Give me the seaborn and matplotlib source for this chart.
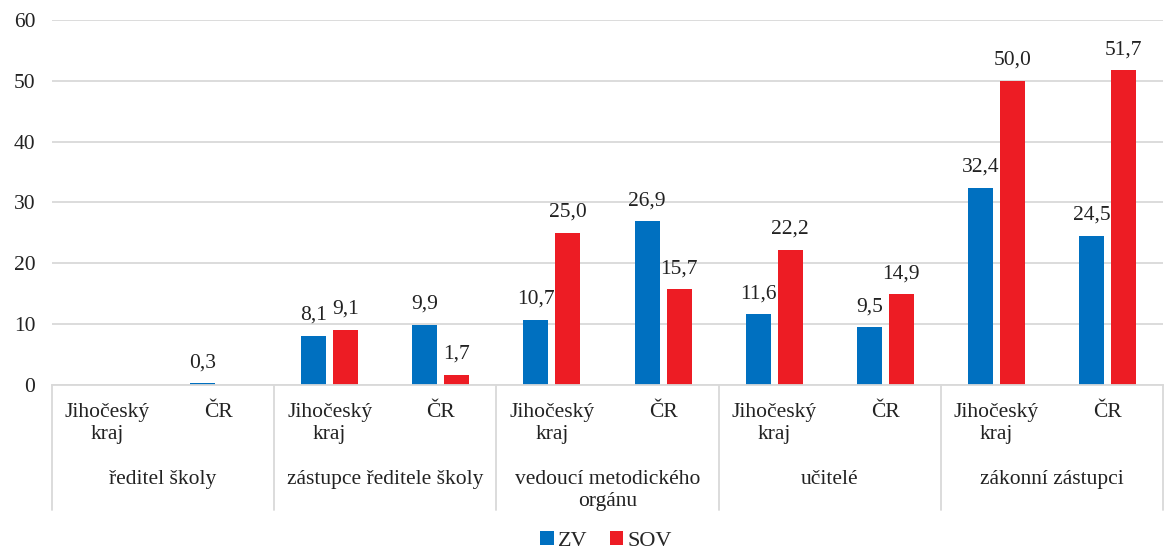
import matplotlib
matplotlib.use("Agg")
import matplotlib.pyplot as plt
import matplotlib.transforms as mtransforms
import numpy as np
import pandas as pd
import seaborn as sns


GROUPS = [
    "ředitel školy",
    "zástupce ředitele školy",
    "vedoucí metodického\norgánu",
    "učitelé",
    "zákonní zástupci",
]
SUBCATS = ["Jihočeský\nkraj", "ČR"]
SERIES = ["ZV", "SOV"]
COLORS = ["#0070C0", "#ED1C24"]

# values per subcategory (group x region), NaN = no bar
ZV = [np.nan, 0.3, 8.1, 9.9, 10.7, 26.9, 11.6, 9.5, 32.4, 24.5]
SOV = [np.nan, np.nan, 9.1, 1.7, 25.0, 15.7, 22.2, 14.9, 50.0, 51.7]
Y_TICKS = [0, 10, 20, 30, 40, 50, 60]


def main():
    sns.set_theme(style="white")
    plt.rcParams["font.serif"] = ["Liberation Serif", "DejaVu Serif"]
    plt.rcParams["font.family"] = "serif"

    keys = [str(i) for i in range(len(ZV))]
    df = pd.DataFrame({
        "key": keys * 2,
        "series": ["ZV"] * len(ZV) + ["SOV"] * len(SOV),
        "value": ZV + SOV,
    })
    # empty cells are drawn as zero-height bars without a label
    df["value"] = df["value"].fillna(0)

    fig = plt.figure(figsize=(11.66, 5.49), dpi=100)
    ax = fig.add_axes([0.0446, 0.2987, 0.9528, 0.6649])

    sns.barplot(
        data=df, x="key", y="value", hue="series", order=keys,
        hue_order=SERIES, palette=COLORS, width=0.576, gap=0.22,
        saturation=1, errorbar=None, ax=ax, legend=True, linewidth=0,
    )

    fs = 15.5
    for cont, vals in zip(ax.containers, [ZV, SOV]):
        labels = ["" if np.isnan(v) else f"{v:.1f}".replace(".", ",") for v in vals]
        ax.bar_label(cont, labels=labels, padding=8, fontsize=fs, color="#222222")

    ax.set_ylim(0, 60)
    ax.set_xlim(-0.5, len(keys) - 0.5)
    ax.set_yticks(Y_TICKS)
    ax.set_yticklabels([str(t) for t in Y_TICKS], fontsize=fs, color="#222222")
    ax.yaxis.grid(True, color="#d9d9d9", linewidth=1.3)
    ax.set_axisbelow(True)
    ax.tick_params(axis="y", length=0, pad=12)
    ax.tick_params(axis="x", length=0, pad=13)
    ax.set_xticks(range(len(keys)))
    ax.set_xticklabels(SUBCATS * len(GROUPS), fontsize=fs, linespacing=1.2,
                       color="#222222")
    ax.set_xlabel("")
    ax.set_ylabel("")
    for s in ["left", "right", "top"]:
        ax.spines[s].set_visible(False)
    ax.spines["bottom"].set_color("#d9d9d9")
    ax.spines["bottom"].set_linewidth(1.3)

    trans = mtransforms.blended_transform_factory(ax.transData, ax.transAxes)
    for i in range(len(GROUPS) + 1):
        xs = 2 * i - 0.5
        ax.plot([xs, xs], [0, -0.342], transform=trans, color="#d9d9d9",
                linewidth=1.3, clip_on=False)
    for i, g in enumerate(GROUPS):
        ax.text(2 * i + 0.5, -0.232, g, transform=trans, ha="center", va="top",
                fontsize=fs, linespacing=1.2, color="#222222")

    handles, _ = ax.get_legend_handles_labels()
    ax.legend(handles, SERIES, loc="lower center", bbox_to_anchor=(0.52, -0.02),
              bbox_transform=fig.transFigure, ncol=2, frameon=False,
              fontsize=fs + 0.5, handlelength=0.6, handleheight=0.6,
              handletextpad=0.2, columnspacing=1.0, borderaxespad=0)

    fig.savefig("out.png", dpi=100)
    plt.close(fig)


if __name__ == "__main__":
    main()
